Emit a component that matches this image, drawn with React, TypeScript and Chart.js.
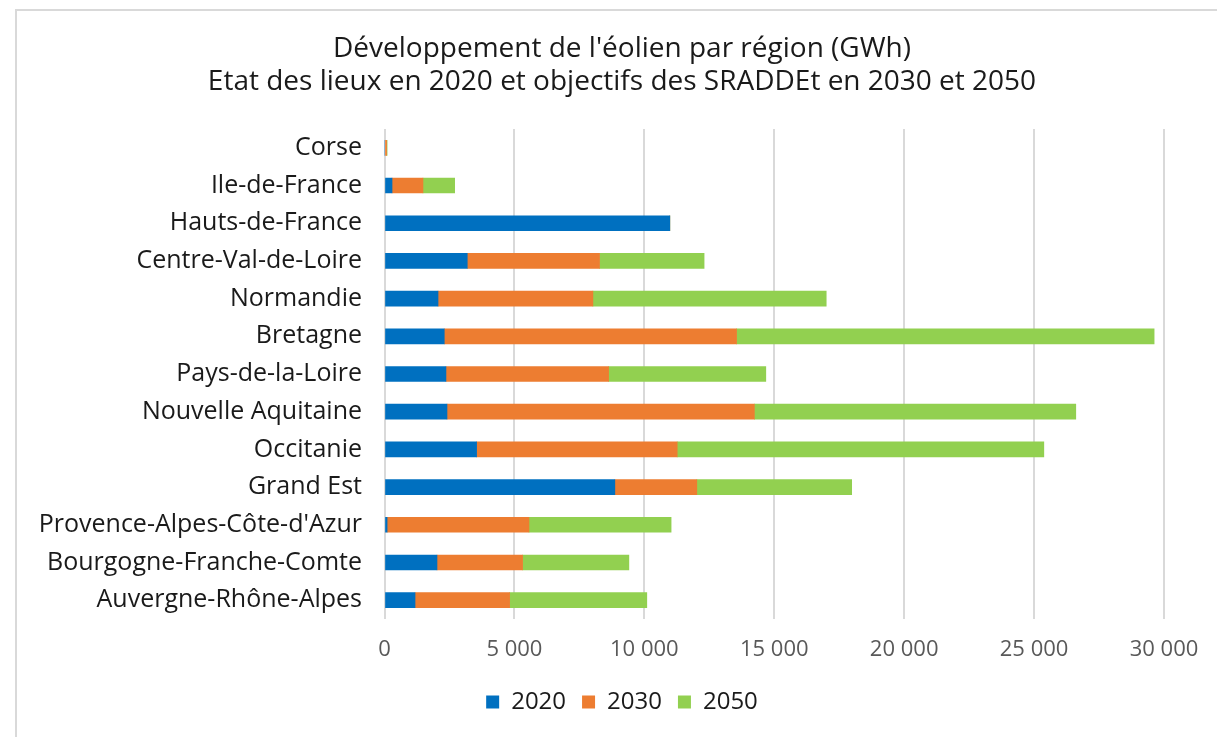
import React, { useEffect, useRef } from 'react';
import { Chart, registerables } from 'chart.js';

Chart.register(...registerables);

const regions = [
  'Corse',
  'Ile-de-France',
  'Hauts-de-France',
  'Centre-Val-de-Loire',
  'Normandie',
  'Bretagne',
  'Pays-de-la-Loire',
  'Nouvelle Aquitaine',
  'Occitanie',
  'Grand Est',
  "Provence-Alpes-Côte-d'Azur",
  'Bourgogne-Franche-Comte',
  'Auvergne-Rhône-Alpes',
];
const values2020 = [0, 290, 10980, 3185, 2060, 2300, 2365, 2405, 3545, 8865, 100, 2020, 1175];
const values2030 = [80, 1190, 0, 5090, 5960, 11250, 6260, 11830, 7720, 3155, 5460, 3295, 3640];
const values2050 = [20, 1220, 0, 4025, 8980, 16070, 6050, 12370, 14110, 5960, 5470, 4090, 5280];
const seriesLabels = ['2020', '2030', '2050'];
const titleLines = [
  "Développement de l'éolien par région (GWh)",
  'Etat des lieux en 2020 et objectifs des SRADDEt en 2030 et 2050',
];

const FONT = '"Open Sans"';

export default function App() {
  const ref = useRef<HTMLCanvasElement | null>(null);

  useEffect(() => {
    if (!ref.current) return;
    document.body.style.overflow = 'hidden';
    const chart = new Chart(ref.current, {
      type: 'bar',
      data: {
        labels: regions,
        datasets: [
          { label: seriesLabels[0], data: values2020, backgroundColor: '#0070C0', barThickness: 15 },
          { label: seriesLabels[1], data: values2030, backgroundColor: '#ED7D31', barThickness: 15 },
          { label: seriesLabels[2], data: values2050, backgroundColor: '#92D050', barThickness: 15 },
        ],
      },
      options: {
        indexAxis: 'y',
        responsive: false,
        animation: false,
        layout: { padding: { left: 0, right: 0, top: 0, bottom: 13 } },
        plugins: {
          title: {
            display: true,
            text: titleLines,
            color: '#1a1a1a',
            font: { family: FONT, size: 28, weight: 'normal', lineHeight: 33 / 28 },
            padding: { top: 22, bottom: 30 },
          },
          legend: {
            position: 'bottom',
            labels: {
              boxWidth: 13,
              boxHeight: 13,
              color: '#1a1a1a',
              font: { family: FONT, size: 24 },
              padding: 16,
            },
          },
          tooltip: { enabled: false },
        },
        scales: {
          x: {
            stacked: true,
            min: 0,
            max: 30000,
            ticks: {
              stepSize: 5000,
              padding: 18,
              color: '#595959',
              font: { family: FONT, size: 22 },
              callback: (v: any) => {
                const n = Number(v);
                return n >= 1000 ? `${Math.floor(n / 1000)} ${String(n % 1000).padStart(3, '0')}` : String(n);
              },
            },
            grid: { color: '#d9d9d9', lineWidth: 2, drawTicks: false },
            border: { display: false },
            afterFit: (s: any) => {
              s.height = 55;
            },
          },
          y: {
            stacked: true,
            ticks: {
              padding: 22.5,
              color: '#1a1a1a',
              font: { family: FONT, size: 25 },
            },
            grid: { display: false, drawTicks: false },
            border: { display: false },
            afterFit: (s: any) => {
              s.width = 367.5;
            },
          },
          yRight: {
            type: 'category',
            position: 'right',
            display: true,
            ticks: { display: false },
            grid: { display: false, drawTicks: false },
            border: { display: false },
            afterFit: (s: any) => {
              s.width = 63;
            },
          },
        },
      },
    });
    return () => chart.destroy();
  }, []);

  return (
    <div style={{ position: 'absolute', left: 0, top: 0, width: 1217, height: 737, overflow: 'hidden', background: '#fff' }}>
      <div
        style={{
          position: 'absolute',
          left: 15,
          top: 9,
          width: 1300,
          height: 800,
          border: '2px solid #d9d9d9',
          boxSizing: 'border-box',
        }}
      />
      <canvas ref={ref} width={1210} height={726} style={{ position: 'absolute', left: 17, top: 11 }} />
    </div>
  );
}
